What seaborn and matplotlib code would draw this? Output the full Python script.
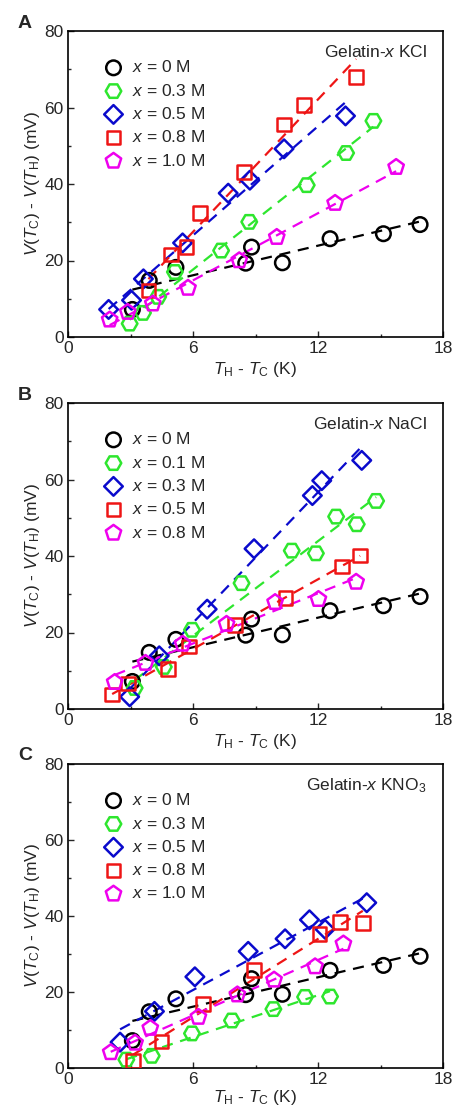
import numpy as np
import pandas as pd
import matplotlib
matplotlib.use("Agg")
import matplotlib.pyplot as plt
import seaborn as sns

sns.set_style("white")
plt.rcParams['font.family'] = ['Liberation Sans', 'DejaVu Sans']
plt.rcParams['mathtext.fontset'] = 'custom'
plt.rcParams['mathtext.rm'] = 'Liberation Sans'
plt.rcParams['mathtext.it'] = 'Liberation Sans:italic'
plt.rcParams['mathtext.bf'] = 'Liberation Sans:bold'

# ---------------- data ----------------
x0_dT = [3.09, 3.9, 5.18, 8.53, 8.81, 10.29, 12.58, 15.14, 16.9]
x0_V = [7.2, 14.8, 18.2, 19.3, 23.5, 19.4, 25.7, 27.0, 29.4]

# Panel A: KCl
A_labels = ["0 M", "0.3 M", "0.5 M", "0.8 M", "1.0 M"]
A_03_dT = [2.96, 3.6, 4.33, 5.13, 7.35, 8.7, 11.46, 13.35, 14.66]
A_03_V = [3.5, 6.3, 10.5, 17.0, 22.6, 30.1, 39.7, 48.1, 56.5]
A_05_dT = [1.95, 3.05, 3.62, 5.5, 7.69, 8.73, 10.37, 13.32]
A_05_V = [7.2, 9.6, 15.2, 24.6, 37.6, 41.0, 49.2, 57.8]
A_08_dT = [3.86, 4.94, 5.69, 6.33, 8.46, 10.37, 11.33, 13.83]
A_08_V = [12.1, 21.6, 23.5, 32.4, 43.1, 55.5, 60.7, 68.0]
A_10_dT = [2.0, 2.87, 4.07, 5.76, 8.22, 10.02, 12.82, 15.75]
A_10_V = [4.5, 6.5, 8.7, 12.8, 20.0, 26.1, 35.0, 44.4]

# Panel B: NaCl
B_labels = ["0 M", "0.1 M", "0.3 M", "0.5 M", "0.8 M"]
B_01_dT = [3.2, 4.6, 5.95, 8.33, 10.74, 11.9, 12.87, 13.86, 14.79]
B_01_V = [5.5, 11.0, 20.7, 32.9, 41.4, 40.7, 50.3, 48.3, 54.4]
B_03_dT = [2.96, 4.38, 6.68, 8.93, 11.73, 12.18, 14.1]
B_03_V = [3.2, 13.9, 26.1, 41.9, 55.8, 59.7, 65.0]
B_05_dT = [2.12, 2.88, 4.81, 5.8, 8.01, 10.45, 13.14, 14.02]
B_05_V = [3.8, 6.7, 10.5, 16.3, 22.0, 29.0, 37.3, 40.1]
B_08_dT = [2.24, 3.72, 5.5, 7.61, 9.94, 12.02, 13.83]
B_08_V = [7.0, 12.0, 17.0, 22.2, 27.9, 28.7, 33.2]

# Panel C: KNO3
C_labels = ["0 M", "0.3 M", "0.5 M", "0.8 M", "1.0 M"]
C_03_dT = [2.8, 4.02, 5.95, 7.87, 9.86, 11.38, 12.58]
C_03_V = [2.2, 3.2, 9.1, 12.5, 15.5, 18.7, 18.8]
C_05_dT = [2.5, 4.15, 6.09, 8.65, 10.42, 11.59, 12.34, 14.34]
C_05_V = [6.8, 14.9, 24.0, 30.7, 34.0, 39.0, 36.5, 43.5]
C_08_dT = [3.12, 4.48, 6.49, 8.93, 12.07, 13.06, 14.15]
C_08_V = [1.8, 7.0, 16.9, 25.8, 35.3, 38.4, 38.1]
C_10_dT = [2.05, 3.22, 3.95, 6.26, 8.13, 9.89, 11.86, 13.22]
C_10_V = [4.1, 6.6, 10.5, 13.4, 19.3, 23.2, 26.7, 32.7]

panel_titles = ["Gelatin-$x$ KCl", "Gelatin-$x$ NaCl", "Gelatin-$x$ KNO$_3$"]
panel_letters = ["A", "B", "C"]
x_ticks = [0, 6, 12, 18]
y_ticks = [0, 20, 40, 60, 80]

colors = ["#000000", "#2ee62e", "#0a0acc", "#ee1515", "#ee00ee"]
markers = ["o", "H", "D", "s", "p"]
msizes = [110, 125, 90, 95, 135]

panels = [
    (A_labels, [(x0_dT, x0_V), (A_03_dT, A_03_V), (A_05_dT, A_05_V), (A_08_dT, A_08_V), (A_10_dT, A_10_V)]),
    (B_labels, [(x0_dT, x0_V), (B_01_dT, B_01_V), (B_03_dT, B_03_V), (B_05_dT, B_05_V), (B_08_dT, B_08_V)]),
    (C_labels, [(x0_dT, x0_V), (C_03_dT, C_03_V), (C_05_dT, C_05_V), (C_08_dT, C_08_V), (C_10_dT, C_10_V)]),
]

W, H = 455, 1108
fig = plt.figure(figsize=(W / 100, H / 100), dpi=100)
axes_px = [(31, 337), (403, 709), (764, 1068)]
left, right = 68, 443

for pi, ((labels, series), (top, bot)) in enumerate(zip(panels, axes_px)):
    ax = fig.add_axes([left / W, 1 - bot / H, (right - left) / W, (bot - top) / H])
    for si, (dT, V) in enumerate(series):
        df = pd.DataFrame({"dT": dT, "V": V})
        sns.regplot(data=df, x="dT", y="V", ax=ax, scatter=False, ci=None,
                    truncate=True,
                    line_kws=dict(color=colors[si], lw=1.6, dashes=(5, 3.5), zorder=2))
    for si, (dT, V) in enumerate(series):
        df = pd.DataFrame({"dT": dT, "V": V})
        sns.scatterplot(data=df, x="dT", y="V", ax=ax, marker=markers[si], s=msizes[si],
                        facecolor="none", edgecolor=colors[si], linewidth=1.8,
                        label=r"$x$ = " + labels[si], zorder=3)
    ax.set_xlim(0, 18)
    ax.set_ylim(0, 80)
    ax.set_xticks(x_ticks)
    ax.set_yticks(y_ticks)
    ax.set_xticks([3, 9, 15], minor=True)
    ax.set_yticks([10, 30, 50, 70], minor=True)
    ax.tick_params(which="both", direction="in", labelsize=12.5, width=1.0,
                   top=False, right=False, left=True, bottom=True, pad=3)
    ax.tick_params(which="major", length=4)
    ax.tick_params(which="minor", length=2.5)
    for sp in ax.spines.values():
        sp.set_linewidth(1.2)
        sp.set_color("black")
    ax.set_xlabel(r"$T_{\rm H}$ - $T_{\rm C}$ (K)", fontsize=12.5,
                  labelpad=(2.5 if pi < 2 else 0.5))
    ax.set_ylabel(r"$V$($T_{\rm C}$) - $V$($T_{\rm H}$) (mV)", fontsize=12.5, labelpad=2)
    ax.legend(loc="upper left", bbox_to_anchor=(0.075, 0.93), frameon=False,
              fontsize=12.5, handletextpad=0.45, labelspacing=0.42,
              borderaxespad=0, handlelength=1.2)
    ax.text(0.957, 0.93, panel_titles[pi], transform=ax.transAxes, ha="right",
            va="center", fontsize=12.5)
    fig.text(25 / W, 1 - (top - 8) / H, panel_letters[pi], fontsize=14,
             fontweight="bold", ha="center", va="center")

fig.savefig("out.png", dpi=100)
